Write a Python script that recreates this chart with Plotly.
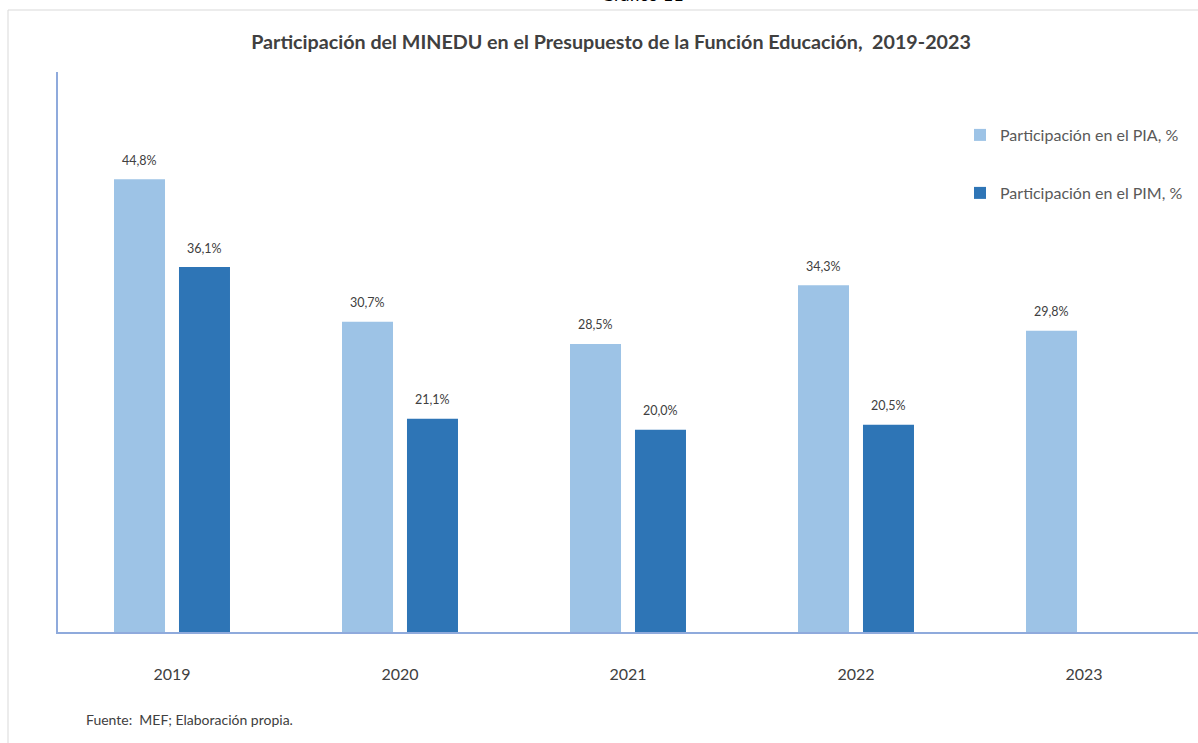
import plotly.graph_objects as go

years = ["2019", "2020", "2021", "2022", "2023"]
pia = [44.8, 30.7, 28.5, 34.3, 29.8]
pim = [36.1, 21.1, 20.0, 20.5, None]
pia_labels = ["44,8%", "30,7%", "28,5%", "34,3%", "29,8%"]
pim_labels = ["36,1%", "21,1%", "20,0%", "20,5%", ""]

W, H = 1198, 743
ML, MR, MT, MB = 58, 0, 72, 111
PW, PH = W - ML - MR, H - MT - MB

def px_x(x):
    return (x - ML) / PW

def px_y(y):
    return (H - MB - y) / PH

fig = go.Figure()
fig.add_trace(go.Bar(
    x=years, y=pia, name="Participación en el PIA, %",
    marker=dict(color="#9DC3E6", line=dict(width=0)),
    legend="legend",
))
fig.add_trace(go.Bar(
    x=years, y=pim, name="Participación en el PIM, %",
    marker=dict(color="#2E75B6", line=dict(width=0)),
    legend="legend2",
))

label_font = dict(family="Lato", size=12.5, color="#404040")
annotations = []
for xs, vals, labs in [(-32.5, pia, pia_labels), (32.5, pim, pim_labels)]:
    for i, (v, lab) in enumerate(zip(vals, labs)):
        if v is None or not lab:
            continue
        annotations.append(dict(
            x=i, y=v, xref="x", yref="y", text=lab, showarrow=False,
            xshift=xs, yshift=19, xanchor="center", yanchor="middle",
            font=label_font,
        ))

annotations += [
    dict(text="Fuente:  MEF; Elaboración propia.", xref="paper", yref="paper",
         x=px_x(84), y=px_y(720), xanchor="left", yanchor="middle",
         showarrow=False, font=dict(family="Lato", size=14, color="#404040")),
    dict(text="Gráfico 11", xref="paper", yref="paper",
         x=px_x(642), y=px_y(-6), xanchor="center", yanchor="middle",
         showarrow=False, font=dict(family="Lato", size=18, color="#000000")),
]

legend_common = dict(
    xref="paper", yref="paper", xanchor="left", yanchor="middle",
    bgcolor="rgba(0,0,0,0)", borderwidth=0,
    font=dict(family="Lato", size=16, color="#595959"),
    itemwidth=30,
)

fig.update_layout(
    width=W, height=H,
    margin=dict(l=ML, r=MR, t=MT, b=MB),
    paper_bgcolor="white", plot_bgcolor="white",
    barmode="group", bargap=0.43, bargroupgap=0.215,
    showlegend=True,
    legend=dict(x=px_x(960), y=px_y(135), **legend_common),
    legend2=dict(x=px_x(960), y=px_y(193), **legend_common),
    title=dict(
        text="<b>Participación del MINEDU en el Presupuesto de la Función Educación,  2019-2023</b>",
        x=px_x(611), xref="paper", y=1 - 42 / H, yref="container",
        xanchor="center", yanchor="middle",
        font=dict(family="Lato", size=19.7, color="#404040"),
    ),
    xaxis=dict(
        type="category", range=[-0.5, len(years) - 0.5],
        showline=True, linecolor="#8FAADC", linewidth=1.5,
        ticks="", showgrid=False, zeroline=False,
        tickfont=dict(family="Lato", size=16, color="#404040"),
        ticklabelstandoff=27,
    ),
    yaxis=dict(
        range=[0, 55.4], showline=True, linecolor="#8FAADC", linewidth=1.5,
        showticklabels=False, ticks="", showgrid=False, zeroline=False,
    ),
    shapes=[
        dict(type="line", xref="paper", yref="paper",
             x0=px_x(8), x1=px_x(8), y0=px_y(10), y1=px_y(H),
             line=dict(color="#D9D9D9", width=1)),
        dict(type="line", xref="paper", yref="paper",
             x0=px_x(8), x1=px_x(W), y0=px_y(10), y1=px_y(10),
             line=dict(color="#D9D9D9", width=1)),
    ],
    annotations=annotations,
)

fig.write_html(
    "out.html",
    config={"displayModeBar": False},
    post_script="document.body.style.margin='0';document.body.style.overflow='hidden';",
)
